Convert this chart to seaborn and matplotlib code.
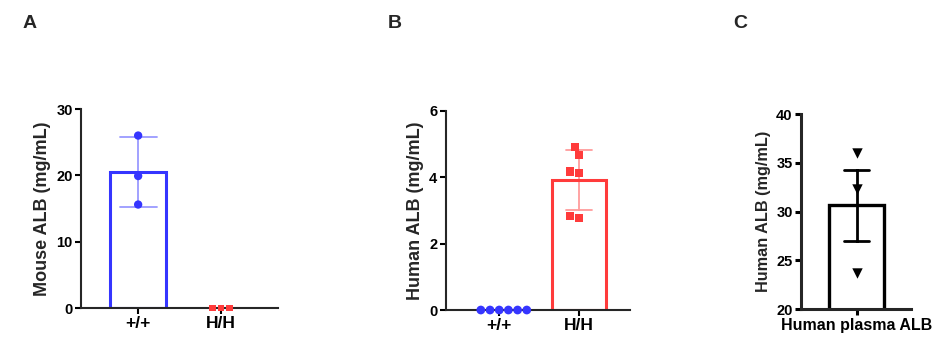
import numpy as np
import pandas as pd
import matplotlib
matplotlib.use("Agg")
import matplotlib.pyplot as plt
from matplotlib.markers import MarkerStyle
from matplotlib.transforms import Affine2D
import seaborn as sns

sns.set_theme(style="ticks")
plt.rcParams["font.family"] = ["Liberation Sans", "DejaVu Sans"]
plt.rcParams["font.weight"] = "bold"

# ---- data ----
genotypes = ["+/+", "H/H"]
mouse_alb_wt = [26.0, 19.9, 15.6]
mouse_alb_hh = [0.0, 0.0, 0.0]
human_alb_wt = [0.0, 0.0, 0.0, 0.0, 0.0, 0.0]
human_alb_hh = [4.90, 4.66, 4.17, 4.12, 2.78, 2.84]
plasma_label = ["Human plasma ALB"]
plasma_alb = [35.97, 32.3, 23.7]

blue = "#3535FF"
red = "#FF3B3B"

df_a = pd.DataFrame({
    "genotype": [genotypes[0]] * len(mouse_alb_wt) + [genotypes[1]] * len(mouse_alb_hh),
    "value": mouse_alb_wt + mouse_alb_hh,
})
df_b = pd.DataFrame({
    "genotype": [genotypes[0]] * len(human_alb_wt) + [genotypes[1]] * len(human_alb_hh),
    "value": human_alb_wt + human_alb_hh,
})
df_c = pd.DataFrame({"group": plasma_label * len(plasma_alb), "value": plasma_alb})

fig = plt.figure(figsize=(9.39, 3.45), dpi=100)
ax_a = fig.add_axes([0.0863, 0.1072, 0.2098, 0.5768])
ax_b = fig.add_axes([0.4747, 0.1014, 0.1963, 0.5777])
ax_c = fig.add_axes([0.8530, 0.1035, 0.1171, 0.5660])


def square_path(scale):
    sq = MarkerStyle("s")
    return sq.get_path().transformed(sq.get_transform() + Affine2D().scale(scale))


def style_axis(ax, lw, xsize=12.5, ysize=10.5):
    sns.despine(ax=ax)
    for side in ("left", "bottom"):
        ax.spines[side].set_linewidth(lw)
        ax.spines[side].set_zorder(3)
    ax.tick_params(axis="both", width=lw, length=4, pad=2, colors="black")
    ax.tick_params(axis="x", labelsize=xsize)
    ax.tick_params(axis="y", labelsize=ysize)
    for lab in ax.get_xticklabels() + ax.get_yticklabels():
        lab.set_fontweight("bold")
    ax.set_xlabel("")


def hide_empty_bars(ax):
    for p in ax.patches:
        if p.get_height() == 0:
            p.set_visible(False)


# ---- panel A ----
sns.barplot(data=df_a, x="genotype", y="value", hue="genotype",
            palette=[blue, red], fill=False, linewidth=2.2, width=0.675,
            errorbar="sd", capsize=0.45,
            err_kws={"linewidth": 1.3, "alpha": 0.5}, legend=False, ax=ax_a)
hide_empty_bars(ax_a)
sns.swarmplot(data=df_a, x="genotype", y="value", hue="genotype",
              palette=[blue, red], marker="o", size=6, legend=False,
              ax=ax_a, zorder=5)
for coll in ax_a.collections:
    coll.set_clip_on(False)
ax_a.collections[-1].set_paths([square_path(0.8)])
ax_a.set_ylim(0, 30)
ax_a.set_yticks([0, 10, 20, 30])
ax_a.set_xlim(-0.69, 1.69)
ax_a.set_ylabel("Mouse ALB (mg/mL)", fontsize=13, fontweight="bold")
style_axis(ax_a, 1.5)

# ---- panel B ----
sns.barplot(data=df_b, x="genotype", y="value", hue="genotype",
            palette=[blue, red], fill=False, linewidth=2.2, width=0.68,
            errorbar="sd", capsize=0.33,
            err_kws={"linewidth": 1.3, "alpha": 0.5}, legend=False, ax=ax_b)
hide_empty_bars(ax_b)
sns.swarmplot(data=df_b, x="genotype", y="value", hue="genotype",
              palette=[blue, red], marker="o", size=6.3, legend=False,
              ax=ax_b, zorder=5)
for coll in ax_b.collections:
    coll.set_clip_on(False)
ax_b.collections[-1].set_paths([square_path(0.92)])
ax_b.set_ylim(0, 6)
ax_b.set_yticks([0, 2, 4, 6])
ax_b.set_xlim(-0.67, 1.64)
ax_b.set_ylabel("Human ALB (mg/mL)", fontsize=13, fontweight="bold")
style_axis(ax_b, 1.5)

# ---- panel C ----
sns.barplot(data=df_c, x="group", y="value", color="white", edgecolor="black",
            linewidth=2.4, width=0.8, errorbar="se", capsize=0.37,
            err_kws={"linewidth": 2.0, "color": "black"}, ax=ax_c)
sns.stripplot(data=df_c, x="group", y="value", color="black", marker="v",
              size=7.5, jitter=False, ax=ax_c, zorder=5)
ax_c.set_ylim(20, 40)
ax_c.set_yticks([20, 25, 30, 35, 40])
ax_c.set_xlim(-0.82, 0.80)
ax_c.set_ylabel("Human ALB (mg/mL)", fontsize=11.7, fontweight="bold")
style_axis(ax_c, 2.2, xsize=11.5)

# ---- panel letters ----
for x, letter in [(30, "A"), (395, "B"), (740, "C")]:
    fig.text(x / 939, 1 - 24 / 345, letter, fontsize=14, fontweight="bold",
             ha="center", va="center")

fig.savefig("out.png", dpi=100)
